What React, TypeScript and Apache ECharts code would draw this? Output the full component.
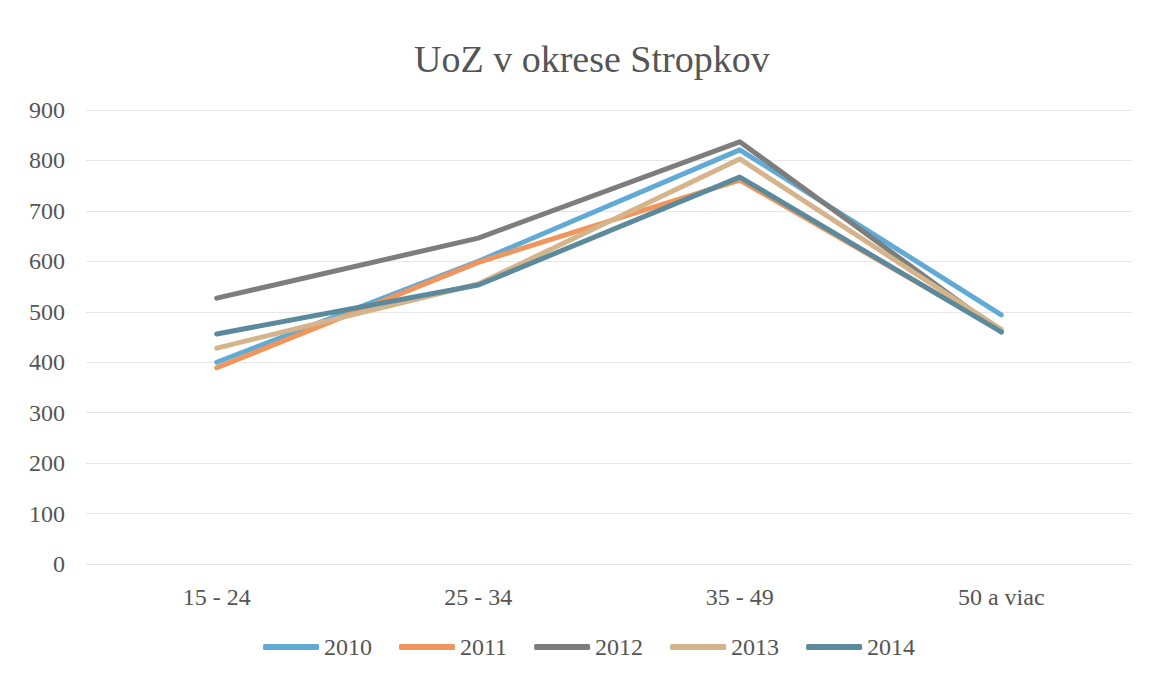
import React, { useEffect, useRef } from "react";
import * as echarts from "echarts";

const categories = ["15 - 24", "25 - 34", "35 - 49", "50 a viac"];
const years = ["2010", "2011", "2012", "2013", "2014"];
const s2010 = [400, 600, 821, 494];
const s2011 = [389, 598, 761, 462];
const s2012 = [527, 646, 837, 460];
const s2013 = [428, 555, 803, 465];
const s2014 = [456, 553, 767, 460];
const seriesValues = [s2010, s2011, s2012, s2013, s2014];
const colors = ["#62aad6", "#f0955c", "#7d7d7d", "#d5b48c", "#5a8a9c"];

export default function App() {
  const ref = useRef<HTMLDivElement>(null);
  useEffect(() => {
    document.body.style.margin = "0";
    const chart = echarts.init(ref.current!, null, { renderer: "svg" });
    const font = "'Liberation Serif', 'DejaVu Serif', serif";
    chart.setOption({
      animation: false,
      backgroundColor: "#ffffff",
      color: colors,
      title: {
        text: "UoZ v okrese Stropkov",
        left: 409,
        top: 35,
        textStyle: { fontFamily: font, fontSize: 38, fontWeight: "normal", color: "#555555" },
      },
      grid: { left: 86, right: 18, top: 110, bottom: 113 },
      legend: {
        bottom: 13,
        left: 258,
        itemWidth: 56,
        itemHeight: 6,
        itemGap: 27,
        icon: "roundRect",
        textStyle: { fontFamily: font, fontSize: 24, color: "#555555" },
        data: years,
      },
      xAxis: {
        type: "category",
        data: categories,
        boundaryGap: true,
        axisLine: { show: false },
        axisTick: { show: false },
        axisLabel: { fontFamily: font, fontSize: 24, color: "#555555", margin: 21 },
      },
      yAxis: {
        type: "value",
        min: 0,
        max: 900,
        interval: 100,
        axisLine: { show: false },
        axisTick: { show: false },
        axisLabel: { fontFamily: font, fontSize: 24, color: "#555555", margin: 21 },
        splitLine: { lineStyle: { color: "#e6e6e6", width: 1 } },
      },
      series: years.map((y, i) => ({
        name: y,
        type: "line",
        data: seriesValues[i],
        symbol: "none",
        lineStyle: { width: 5, cap: "round", join: "round", color: colors[i] },
      })),
    });
    return () => chart.dispose();
  }, []);
  return <div ref={ref} style={{ width: 1150, height: 677 }} />;
}
